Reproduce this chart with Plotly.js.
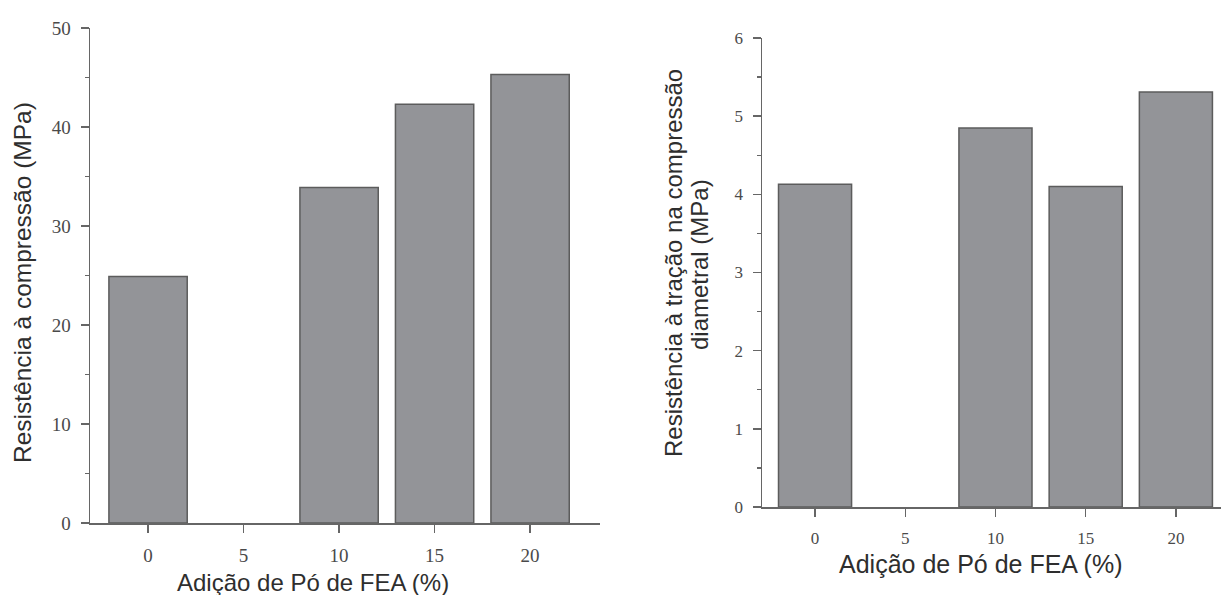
<!DOCTYPE html>
<html>
<head>
<meta charset="utf-8">
<script src="https://cdn.plot.ly/plotly-3.0.1.min.js"></script>
<style>html,body{margin:0;padding:0;background:#fff;}#chart{width:1221px;height:595px;}</style>
</head>
<body>
<div id="chart"></div>
<script>
// Data
const additions = [0, 5, 10, 15, 20];              // Adição de Pó de FEA (%)
const compressao = [24.9, null, 33.9, 42.3, 45.3];  // Resistência à compressão (MPa)
const tracao = [4.13, null, 4.85, 4.10, 5.31];      // Resistência à tração na compressão diametral (MPa)
const xTickVals = [0, 5, 10, 15, 20];
const xTickText = ['0', '5', '10', '15', '20'];
const yLeftTicks = [0, 10, 20, 30, 40, 50];
const yRightTicks = [0, 1, 2, 3, 4, 5, 6];

const W = 1221, H = 595;
const barFill = '#939498';
const barLine = '#5c5c5c';
const axisColor = '#666666';
const tickFont = {family: 'Liberation Serif, Times New Roman, serif', size: 19, color: '#4a4a4a'};
const tickFont2 = {family: 'Liberation Serif, Times New Roman, serif', size: 17, color: '#4a4a4a'};
const titleFont = {family: 'Liberation Sans, Arial, sans-serif', size: 24, color: '#2e2e2e'};

const traces = [
  {type: 'bar', x: additions, y: compressao, width: 4.1, xaxis: 'x', yaxis: 'y',
   marker: {color: barFill, line: {color: barLine, width: 1.5}}, hoverinfo: 'x+y'},
  {type: 'bar', x: additions, y: tracao, width: 4.05, xaxis: 'x2', yaxis: 'y2',
   marker: {color: barFill, line: {color: barLine, width: 1.5}}, hoverinfo: 'x+y'}
];

function xAxis(domain, range, font) {
  return {domain: domain, range: range, showline: true, linecolor: axisColor, linewidth: 1.5,
    ticks: 'outside', ticklen: 8, tickwidth: 1.5, tickcolor: axisColor,
    tickvals: xTickVals, ticktext: xTickText, tickfont: font, ticklabelstandoff: 7,
    showgrid: false, zeroline: false, fixedrange: true};
}
function yAxis(domain, range, tv, dtick, font, anchor) {
  return {domain: domain, range: range, anchor: anchor, showline: true, linecolor: axisColor, linewidth: 1.5,
    ticks: 'outside', ticklen: 8, tickwidth: 1.5, tickcolor: axisColor,
    tickvals: tv, tickfont: font, ticklabelstandoff: 6,
    minor: {dtick: dtick, ticks: 'outside', ticklen: 4, tickwidth: 1.2, tickcolor: axisColor},
    showgrid: false, zeroline: false, fixedrange: true};
}

const layout = {
  width: W, height: H,
  margin: {l: 0, r: 0, t: 0, b: 0},
  paper_bgcolor: '#fff', plot_bgcolor: '#fff',
  showlegend: false, bargap: 0,
  xaxis: Object.assign(xAxis([90 / W, 600 / W], [-3.04, 23.66], tickFont), {anchor: 'y'}),
  yaxis: yAxis([1 - 523 / H, 1 - 28 / H], [0, 50], yLeftTicks, 5, tickFont, 'x'),
  xaxis2: Object.assign(xAxis([762 / W, 1], [-2.94, 22.5], tickFont2), {anchor: 'y2'}),
  yaxis2: yAxis([1 - 507 / H, 1 - 38 / H], [0, 6], yRightTicks, 0.5, tickFont2, 'x2'),
  annotations: [
    {text: 'Resistência à compressão (MPa)', xref: 'paper', yref: 'paper', x: 22 / W, y: 1 - 283 / H,
     textangle: -90, showarrow: false, font: Object.assign({}, titleFont, {size: 24.5}), xanchor: 'center', yanchor: 'middle'},
    {text: 'Adição de Pó de FEA (%)', xref: 'paper', yref: 'paper', x: 313 / W, y: 1 - 582 / H,
     showarrow: false, font: titleFont, xanchor: 'center', yanchor: 'middle'},
    {text: 'Resistência à tração na compressão', xref: 'paper', yref: 'paper', x: 673 / W, y: 1 - 263 / H,
     textangle: -90, showarrow: false, font: titleFont, xanchor: 'center', yanchor: 'middle'},
    {text: 'diametral (MPa)', xref: 'paper', yref: 'paper', x: 699 / W, y: 1 - 265 / H,
     textangle: -90, showarrow: false, font: titleFont, xanchor: 'center', yanchor: 'middle'},
    {text: 'Adição de Pó de FEA (%)', xref: 'paper', yref: 'paper', x: 980 / W, y: 1 - 564 / H,
     showarrow: false, font: Object.assign({}, titleFont, {size: 25}), xanchor: 'center', yanchor: 'middle'}
  ]
};

Plotly.newPlot('chart', traces, layout, {displayModeBar: false, staticPlot: true});
</script>
</body>
</html>
